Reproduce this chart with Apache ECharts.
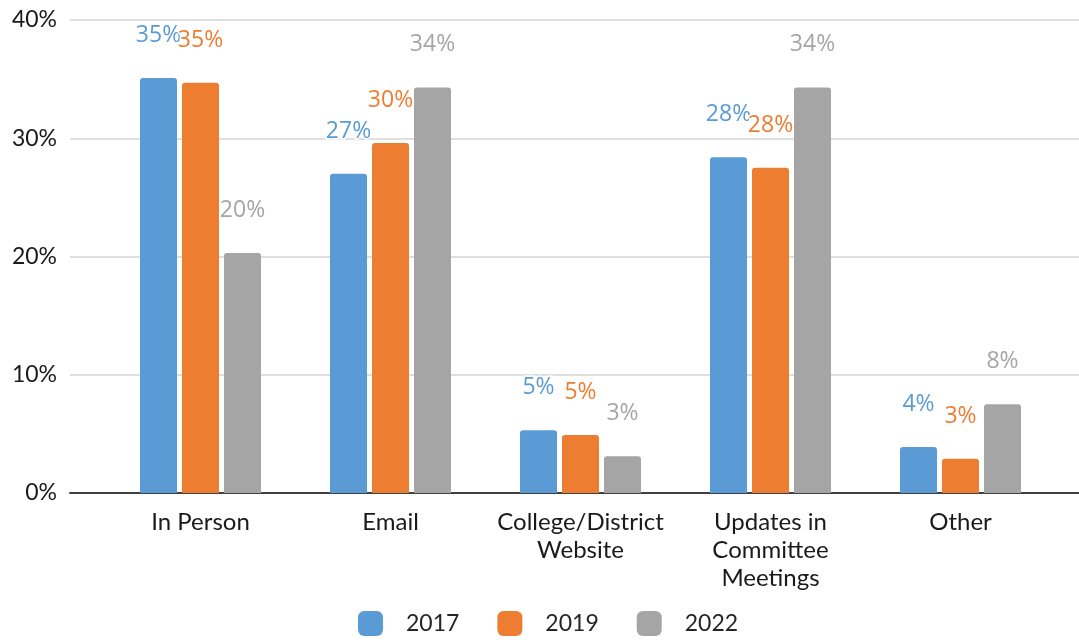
<!DOCTYPE html>
<html>
<head>
<meta charset="utf-8">
<script src="https://cdn.jsdelivr.net/npm/echarts@6/dist/echarts.min.js"></script>
<style>
  html, body { margin: 0; padding: 0; background: #fff; }
  #chart { width: 1079px; height: 644px; }
</style>
</head>
<body>
<div id="chart"></div>
<script>
const categories = ['In Person', 'Email', 'College/District\nWebsite', 'Updates in\nCommittee\nMeetings', 'Other']
const years = ['2017', '2019', '2022']
const values2017 = [35.1, 27.0, 5.3, 28.4, 3.9]
const values2019 = [34.7, 29.6, 4.9, 27.5, 2.9]
const values2022 = [20.3, 34.3, 3.1, 34.3, 7.5]
const colors = ['#5b9bd5', '#ed7d31', '#a5a5a5']

const font = 'Lato, "Open Sans", sans-serif'
const chart = echarts.init(document.getElementById('chart'))

// one bar series per year
const makeSeries = (name, data, color) => ({
  name: name,
  type: 'bar',
  xAxisIndex: 1,
  yAxisIndex: 1,
  data: data,
  barWidth: 37,
  barGap: '13.5%',
  itemStyle: { color: color, borderRadius: [3, 3, 0, 0] },
  label: {
    show: true,
    position: 'top',
    distance: 31,
    formatter: p => Math.round(p.value) + '%',
    color: color,
    fontFamily: '"Open Sans", sans-serif',
    fontSize: 23,
    textBorderColor: '#fff',
    textBorderWidth: 3
  }
})

chart.setOption({
  animation: false,
  legend: {
    data: years,
    left: 353,
    bottom: 3,
    itemWidth: 25,
    itemHeight: 25,
    itemGap: 38,
    icon: 'roundRect',
    textStyle: { fontFamily: font, fontSize: 23, color: '#262626', padding: [0, 0, 0, 18] }
  },
  grid: [
    // background grid: gridlines and axis line across the full width
    { left: 70, right: 0, top: 20, bottom: 151 },
    // bar area
    { left: 105.5, right: 23.5, top: 20, bottom: 151 }
  ],
  xAxis: [
    {
      gridIndex: 0,
      type: 'value',
      min: 0,
      max: 1,
      axisLine: { show: true, onZero: false, lineStyle: { color: '#404040', width: 2 } },
      axisTick: { show: false },
      axisLabel: { show: false },
      splitLine: { show: false }
    },
    {
      gridIndex: 1,
      type: 'category',
      data: categories,
      axisLine: { show: false },
      axisTick: { show: false },
      axisLabel: {
        margin: 15,
        fontFamily: font,
        fontSize: 24,
        lineHeight: 28,
        color: '#1a1a1a',
        interval: 0
      }
    }
  ],
  yAxis: [
    {
      gridIndex: 0,
      type: 'value',
      min: 0,
      max: 40,
      interval: 10,
      axisLine: { show: false },
      axisTick: { show: false },
      axisLabel: {
        formatter: '{value}%',
        margin: 13,
        fontFamily: font,
        fontSize: 23,
        color: '#1a1a1a'
      },
      splitLine: { lineStyle: { color: '#d4d4d4', width: 1.5 } }
    },
    {
      gridIndex: 1,
      type: 'value',
      min: 0,
      max: 40,
      show: false
    }
  ],
  series: [
    makeSeries(years[0], values2017, colors[0]),
    makeSeries(years[1], values2019, colors[1]),
    makeSeries(years[2], values2022, colors[2])
  ]
})
</script>
</body>
</html>
